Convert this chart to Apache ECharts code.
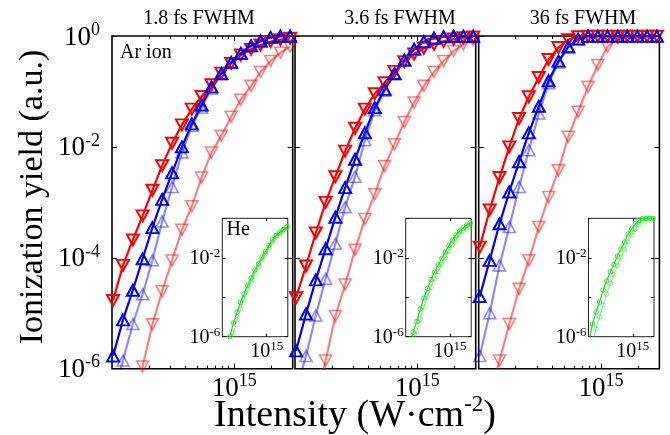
<!DOCTYPE html>
<html><head><meta charset="utf-8">
<script src="https://cdn.jsdelivr.net/npm/echarts@6/dist/echarts.min.js"></script>
<style>html,body{margin:0;padding:0;background:#fff}#c{width:670px;height:435px}</style>
</head><body><div id="c"></div>
<script>
// ---------- data ----------
const intensity = [1.02e14, 1.23e14, 1.48e14, 1.78e14, 2.14e14, 2.57e14, 3.10e14, 3.73e14, 4.49e14, 5.40e14,
                   6.50e14, 7.83e14, 9.42e14, 1.13e15, 1.37e15, 1.64e15, 1.98e15, 2.38e15, 2.86e15];
const panelTitles = ['1.8 fs FWHM', '3.6 fs FWHM', '36 fs FWHM'];
const xMajorTicks = [1e15];
const xMinorTicks = [2e14, 3e14, 4e14, 5e14, 6e14, 7e14, 8e14, 9e14, 2e15];
const yTicks = [1e-6, 1e-4, 1e-2, 1];
const yLabelValues = [1e-6, 1e-2, 1e-4, 1];
const insetYLabelValues = [1e-6, 1e-2];

// 1.8 fs
const arRed1 = [1.7e-5, 7.3e-5, 2.1e-4, 5.7e-4, 1.65e-3, 4.6e-3, 0.0116, 0.025, 0.048, 0.081, 0.132, 0.214, 0.32, 0.454, 0.574, 0.687, 0.79, 0.86, 0.91];
const arBlue1 = [1.7e-6, 7.6e-6, 2.6e-5, 9.6e-5, 3.5e-4, 1.13e-3, 3.4e-3, 0.010, 0.026, 0.057, 0.121, 0.211, 0.334, 0.486, 0.668, 0.813, 0.946, 0.99, 0.99];
const arBlueLight1 = [3.2e-7, 1.4e-6, 6.4e-6, 2.2e-5, 9.0e-5, 4.5e-4, 1.9e-3, 7.9e-3, 0.024, 0.051, 0.113, 0.203, 0.325, 0.48, 0.66, 0.80, 0.93, 0.99, 0.99];
const arRedLight1 = [null, null, 2.5e-7, 1.1e-6, 6.3e-6, 2.5e-5, 8.9e-5, 3.2e-4, 8.5e-4, 2.8e-3, 7.9e-3, 0.0158, 0.035, 0.071, 0.126, 0.224, 0.355, 0.50, 0.645];
const heDark1 = [null, 1.6e-7, 1.0e-6, 5.0e-6, 1.7e-5, 5.5e-5, 1.46e-4, 4.0e-4, 9.4e-4, 2.4e-3, 4.8e-3, 0.0109, 0.0207, 0.042, 0.084, 0.134, 0.195, 0.27, 0.37];
const heLight1 = [null, null, 2.5e-7, 1.6e-6, 7.1e-6, 2.5e-5, 7.9e-5, 2.4e-4, 6.3e-4, 1.6e-3, 3.5e-3, 7.9e-3, 0.0158, 0.033, 0.066, 0.112, 0.17, 0.24, 0.34];
// 3.6 fs
const arRed2 = [1.9e-5, 7.1e-5, 2.8e-4, 1.0e-3, 2.9e-3, 8.4e-3, 0.0217, 0.048, 0.091, 0.144, 0.23, 0.344, 0.473, 0.60, 0.706, 0.80, 0.88, 0.93, 0.96];
const arBlue2 = [2.1e-6, 9.7e-6, 4.0e-5, 1.46e-4, 5.4e-4, 1.84e-3, 6.0e-3, 0.018, 0.051, 0.109, 0.211, 0.368, 0.58, 0.79, 0.92, 0.97, 0.99, 0.99, 0.99];
const arBlueLight2 = [4e-7, 1.7e-6, 9.1e-6, 4.2e-5, 1.8e-4, 8.2e-4, 2.9e-3, 0.0132, 0.046, 0.103, 0.203, 0.358, 0.566, 0.78, 0.91, 0.97, 0.99, 0.99, 0.99];
const arRedLight2 = [null, null, 2e-7, 1.4e-6, 8.9e-6, 3.3e-5, 1.4e-4, 5.0e-4, 1.4e-3, 4.5e-3, 0.0112, 0.028, 0.063, 0.126, 0.224, 0.355, 0.537, 0.708, 0.851];
const heDark2 = [null, 3.2e-7, 1.7e-6, 5.9e-6, 2.5e-5, 9.1e-5, 2.8e-4, 7.9e-4, 1.9e-3, 4.3e-3, 9.2e-3, 0.0196, 0.042, 0.079, 0.143, 0.227, 0.32, 0.457, 0.60];
const heLight2 = [null, null, 4e-7, 1.8e-6, 7.9e-6, 3.2e-5, 1.05e-4, 3.2e-4, 8.3e-4, 2.0e-3, 4.5e-3, 0.010, 0.021, 0.044, 0.083, 0.141, 0.224, 0.33, 0.47];
// 36 fs
const arRed3 = [1.56e-4, 7.3e-4, 2.8e-3, 0.010, 0.0325, 0.080, 0.179, 0.378, 0.62, 0.86, 0.97, 0.99, 0.99, 0.99, 0.99, 0.99, 0.99, 0.99, 0.99];
const arBlue3 = [2.0e-5, 9.0e-5, 4.1e-4, 1.54e-3, 5.4e-3, 0.0179, 0.054, 0.156, 0.353, 0.64, 0.88, 0.99, 0.99, 0.99, 0.99, 0.99, 0.99, 0.99, 0.99];
const arBlueLight3 = [1.7e-6, 1.0e-5, 7.3e-5, 3.6e-4, 1.9e-3, 8.7e-3, 0.040, 0.14, 0.334, 0.62, 0.87, 0.99, 0.99, 0.99, 0.99, 0.99, 0.99, 0.99, 0.99];
const arRedLight3 = [null, 3.2e-7, 1.4e-6, 6.4e-6, 2.75e-5, 9.0e-5, 3.6e-4, 1.25e-3, 3.8e-3, 0.0152, 0.043, 0.121, 0.30, 0.64, 0.91, 0.99, 0.99, 0.99, 0.99];
const heDark3 = [5e-7, 4.4e-6, 1.8e-5, 5.7e-5, 2.3e-4, 6.6e-4, 1.9e-3, 4.5e-3, 0.0123, 0.028, 0.063, 0.16, 0.287, 0.514, 0.79, 0.955, 0.99, 0.99, 0.99];
const heLight3 = [null, 5e-7, 2.5e-6, 1e-5, 4e-5, 1.4e-4, 5e-4, 1.4e-3, 4e-3, 0.0105, 0.025, 0.063, 0.141, 0.28, 0.5, 0.74, 0.91, 0.99, 0.99];

const arSets = [
  {red: arRed1, blue: arBlue1, blueL: arBlueLight1, redL: arRedLight1, heD: heDark1, heL: heLight1},
  {red: arRed2, blue: arBlue2, blueL: arBlueLight2, redL: arRedLight2, heD: heDark2, heL: heLight2},
  {red: arRed3, blue: arBlue3, blueL: arBlueLight3, redL: arRedLight3, heD: heDark3, heL: heLight3}
];

// ---------- layout / style ----------
const FONT = "'Liberation Serif','Times New Roman','DejaVu Serif',serif";
const mainLeft = [112, 295, 478.7];
const mainTop = 36, mainW = 180.7, mainH = 332.7;
const insetLeft = [222.3, 405.7, 588.5];
const insetTop = 218.3, insetW = 65.5, insetH = 118.4;
const titleX = [199, 400, 583];

function pairs(ys) {
  const out = [];
  ys.forEach((y, i) => { if (y != null) out.push([intensity[i], y]); });
  return out;
}
function powRich(size, supSize, lh, slh) {
  return {
    b: {fontSize: size, fontFamily: FONT, color: '#000', lineHeight: lh, verticalAlign: 'bottom'},
    s: {fontSize: supSize, fontFamily: FONT, color: '#000', lineHeight: slh, verticalAlign: 'top'}
  };
}
const powFmt = v => '{b|10}{s|' + Math.round(Math.log10(v)) + '}';

const grid = [], xAxis = [], yAxis = [], series = [];

function addX(gi, pos, ticks, len, labelVals, rich, margin, z) {
  xAxis.push({
    type: 'log', logBase: 10, gridIndex: gi, position: pos, min: 1e14, max: 3e15, z: z,
    axisLine: {show: false}, splitLine: {show: false}, minorTick: {show: false},
    axisTick: {show: true, inside: true, length: len, customValues: ticks, lineStyle: {color: '#000', width: 1}},
    axisLabel: labelVals ? {show: true, customValues: labelVals, formatter: powFmt, rich: rich, margin: margin,
                            fontFamily: FONT, color: '#000'} : {show: false}
  });
  return xAxis.length - 1;
}
function addY(gi, pos, len, labelVals, rich, margin, z) {
  yAxis.push({
    type: 'log', logBase: 10, gridIndex: gi, position: pos, min: 1e-6, max: 1, z: z,
    axisLine: {show: false}, splitLine: {show: false}, minorTick: {show: false},
    axisTick: {show: true, inside: true, length: len, customValues: yTicks, lineStyle: {color: '#000', width: 1}},
    axisLabel: labelVals ? {show: true, customValues: labelVals, formatter: powFmt, rich: rich, margin: margin,
                            fontFamily: FONT, color: '#000'} : {show: false}
  });
  return yAxis.length - 1;
}
function lineSeries(xi, yi, ys, color, down, bw, z) {
  return {
    type: 'line', xAxisIndex: xi, yAxisIndex: yi, data: pairs(ys), clip: true, z: z,
    symbol: 'triangle', symbolSize: [12, 11], symbolRotate: down ? 180 : 0, showSymbol: true,
    itemStyle: {color: 'rgba(0,0,0,0)', borderColor: color, borderWidth: bw},
    lineStyle: {color: color, width: 2.2}, emphasis: {disabled: true}, silent: true, animation: false
  };
}
function heSeries(xi, yi, ys, color, z) {
  return {
    type: 'line', xAxisIndex: xi, yAxisIndex: yi, data: pairs(ys), clip: true, z: z,
    symbol: 'circle', symbolSize: 4.5, showSymbol: true,
    itemStyle: {color: 'rgba(0,0,0,0)', borderColor: color, borderWidth: 0.9},
    lineStyle: {color: color, width: 1.2}, emphasis: {disabled: true}, silent: true, animation: false
  };
}

const mainRich = powRich(27, 18, 30, 14);
const insetRich = powRich(20, 13, 22, 10);

for (let p = 0; p < 3; p++) {
  grid.push({left: mainLeft[p], top: mainTop, width: mainW, height: mainH, show: true,
             borderColor: '#000', borderWidth: 1.6, backgroundColor: 'transparent',
             containLabel: false, outerBoundsMode: 'none'});
  const g = grid.length - 1;
  const xb = addX(g, 'bottom', xMajorTicks, 5, xMajorTicks, mainRich, 4, 1);
  addX(g, 'bottom', xMinorTicks, 3, null, null, 0, 1);
  addX(g, 'top', xMajorTicks, 5, null, null, 0, 1);
  addX(g, 'top', xMinorTicks, 3, null, null, 0, 1);
  const yl = addY(g, 'left', 5, p === 0 ? yLabelValues.filter(v => Math.round(Math.log10(v)) % 2 === 0) : null, mainRich, 12, 1);
  addY(g, 'right', 5, null, null, 0, 1);
  const s = arSets[p];
  series.push(lineSeries(xb, yl, s.redL, 'rgba(255,0,0,0.5)', true, 1.6, 2));
  series.push(lineSeries(xb, yl, s.blueL, 'rgba(0,0,255,0.45)', false, 1.6, 2));
  series.push(lineSeries(xb, yl, s.red, '#ff0000', true, 2, 3));
  series.push(lineSeries(xb, yl, s.blue, '#0000ee', false, 2, 3));
}
for (let p = 0; p < 3; p++) {
  grid.push({left: insetLeft[p], top: insetTop, width: insetW, height: insetH, show: true, z: 5,
             borderColor: '#222', borderWidth: 1, backgroundColor: '#fff',
             containLabel: false, outerBoundsMode: 'none'});
  const g = grid.length - 1;
  const xb = addX(g, 'bottom', xMajorTicks, 3, xMajorTicks, insetRich, 3, 6);
  addX(g, 'top', xMajorTicks, 3, null, null, 0, 6);
  const yl = addY(g, 'left', 3, insetYLabelValues, insetRich, 2, 6);
  addY(g, 'right', 3, null, null, 0, 6);
  const s = arSets[p];
  series.push(heSeries(xb, yl, s.heL, 'rgba(0,220,0,0.45)', 7));
  series.push(heSeries(xb, yl, s.heD, '#22dd22', 8));
}

const graphic = [];
panelTitles.forEach((t, i) => graphic.push({type: 'text', x: titleX[i], y: 19, z: 20,
  style: {text: t, fontSize: 20, fontFamily: FONT, fill: '#000', align: 'center', verticalAlign: 'middle'}}));
graphic.push({type: 'text', x: 120, y: 53, z: 20,
  style: {text: 'Ar ion', fontSize: 20, fontFamily: FONT, fill: '#000', align: 'left', verticalAlign: 'middle'}});
graphic.push({type: 'text', x: 226.5, y: 230, z: 20,
  style: {text: 'He', fontSize: 20, fontFamily: FONT, fill: '#000', align: 'left', verticalAlign: 'middle'}});
graphic.push({type: 'text', x: 33, y: 197, rotation: Math.PI / 2, z: 20,
  style: {text: 'Ionization yield (a.u.)', fontSize: 34, fontFamily: FONT, fill: '#000', align: 'center', verticalAlign: 'middle'}});
graphic.push({type: 'text', x: 355, y: 414, z: 20,
  style: {text: '{a|Intensity (W·cm}{s|-2}{a|)}', fontSize: 38, fontFamily: FONT, fill: '#000',
          align: 'center', verticalAlign: 'middle',
          rich: {a: {fontSize: 38, fontFamily: FONT, fill: '#000', color: '#000', lineHeight: 42, verticalAlign: 'bottom'},
                 s: {fontSize: 23, fontFamily: FONT, fill: '#000', color: '#000', lineHeight: 20, verticalAlign: 'top'}}}});

const chart = echarts.init(document.getElementById('c'), null, {renderer: 'canvas'});
chart.setOption({
  animation: false, backgroundColor: '#fff',
  grid: grid, xAxis: xAxis, yAxis: yAxis, series: series, graphic: graphic
});
</script>
</body></html>
